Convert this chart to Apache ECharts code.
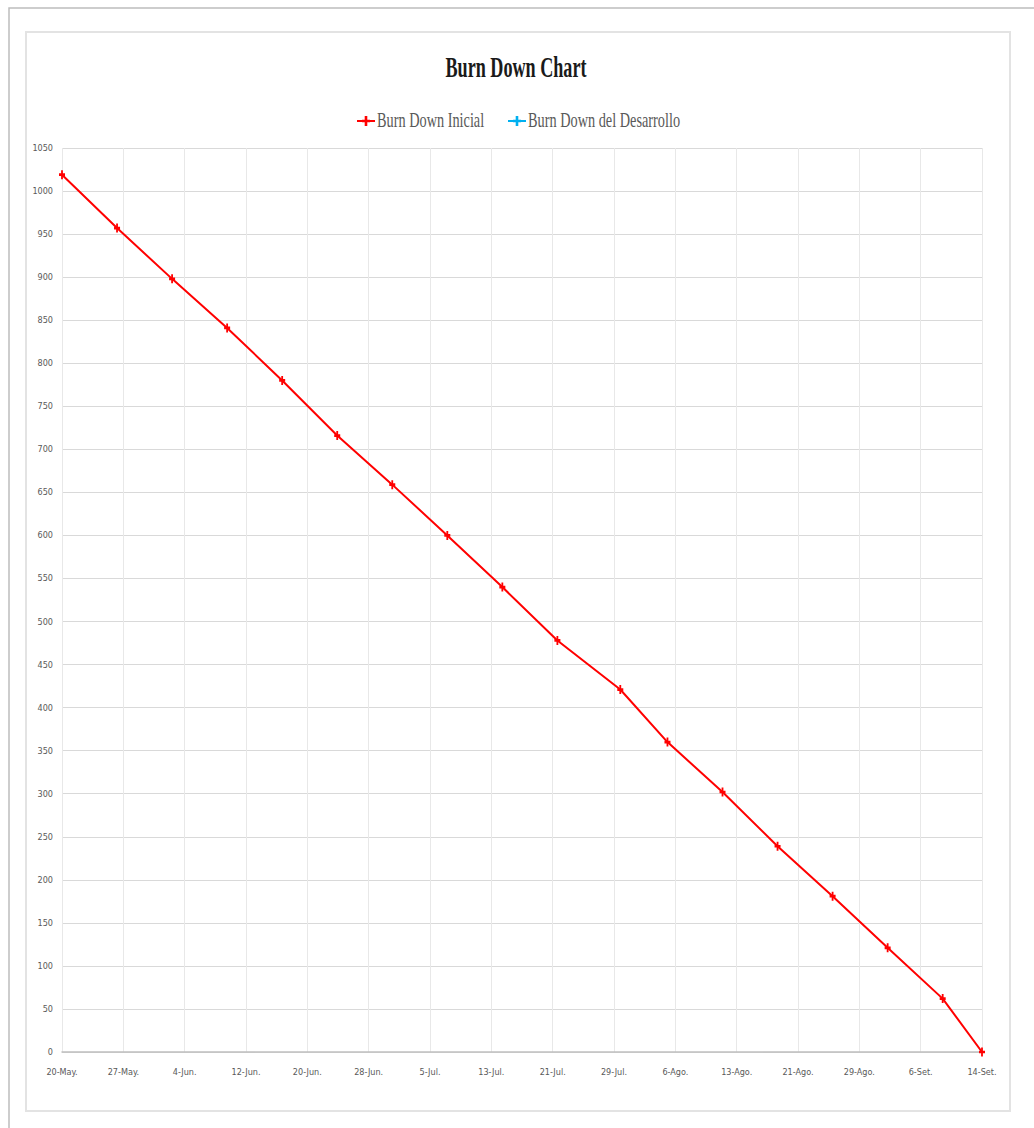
<!DOCTYPE html>
<html>
<head>
<meta charset="utf-8">
<script src="https://cdn.jsdelivr.net/npm/echarts@6/dist/echarts.min.js"></script>
<style>
  html, body { margin: 0; padding: 0; background: #ffffff; }
  #chart { width: 1034px; height: 1128px; }
</style>
</head>
<body>
<div id="chart"></div>
<script>
// ---- Data ----
const titleText = 'Burn Down Chart';
const seriesNames = ['Burn Down Inicial', 'Burn Down del Desarrollo'];
const seriesColors = ['#FF0000', '#00B0F0'];
const startDate = '2019-05-20';
const pointDates = ['2019-05-20', '2019-05-27', '2019-06-03', '2019-06-10', '2019-06-17', '2019-06-24',
  '2019-07-01', '2019-07-08', '2019-07-15', '2019-07-22', '2019-07-30', '2019-08-05',
  '2019-08-12', '2019-08-19', '2019-08-26', '2019-09-02', '2019-09-09', '2019-09-14'];
const burnDownInicial = [1019, 957, 898, 841, 780, 716, 659, 600, 540, 478, 421, 360, 302, 239, 181, 121, 62, 0];
const burnDownDesarrollo = [];
const xTickLabels = ['20-May.', '27-May.', '4-Jun.', '12-Jun.', '20-Jun.', '28-Jun.', '5-Jul.', '13-Jul.',
  '21-Jul.', '29-Jul.', '6-Ago.', '13-Ago.', '21-Ago.', '29-Ago.', '6-Set.', '14-Set.'];
const xSpanDays = 117;
const yMin = 0, yMax = 1050, yStep = 50;

// ---- Helpers ----
const DAY = 86400000;
const t0 = Date.parse(startDate + 'T00:00:00Z');
function dayOffset(s) { return Math.round((Date.parse(s + 'T00:00:00Z') - t0) / DAY); }
const xStep = xSpanDays / (xTickLabels.length - 1);
const inicialData = pointDates.map((d, i) => [dayOffset(d), burnDownInicial[i]]);
const desarrolloData = burnDownDesarrollo.map((v, i) => [dayOffset(pointDates[i]), v]);

const plusPath = 'path://M3.5,0H6.5V3.5H10V6.5H6.5V10H3.5V6.5H0V3.5H3.5Z';
const labelFont = "'Liberation Sans Narrow', 'DejaVu Sans Condensed', 'Liberation Sans', sans-serif";
const serifFont = "'Liberation Serif', 'DejaVu Serif', serif";

const chart = echarts.init(document.getElementById('chart'), null, { renderer: 'svg' });

function plusPoints(cx, cy, w, h, t) {
  const a = t / 2;
  const hw = w / 2, hh = h / 2;
  return [[cx - a, cy - hh], [cx + a, cy - hh], [cx + a, cy - a], [cx + hw, cy - a], [cx + hw, cy + a],
    [cx + a, cy + a], [cx + a, cy + hh], [cx - a, cy + hh], [cx - a, cy + a], [cx - hw, cy + a],
    [cx - hw, cy - a], [cx - a, cy - a]];
}

function legendItem(cx, cy, color, name) {
  return [
    { type: 'line', shape: { x1: cx - 9, y1: cy, x2: cx + 9, y2: cy }, style: { stroke: color, lineWidth: 2 }, silent: true },
    { type: 'polygon', shape: { points: plusPoints(cx, cy, 8, 10, 2.6) }, style: { fill: color }, silent: true },
    { type: 'text', x: cx + 11, y: cy - 2, scaleX: 0.65, silent: true,
      style: { text: name, font: '22px ' + serifFont, fill: '#595959', textAlign: 'left', textVerticalAlign: 'middle' } }
  ];
}

const option = {
  backgroundColor: '#ffffff',
  animation: false,
  grid: { left: 62, right: 52, top: 148, bottom: 76, containLabel: false },
  xAxis: {
    type: 'value',
    min: 0,
    max: xSpanDays,
    interval: xStep,
    axisLine: { show: true, lineStyle: { color: '#bfbfbf', width: 1.5 } },
    axisTick: { show: false },
    axisLabel: {
      color: '#595959', fontSize: 9, fontFamily: labelFont, margin: 15,
      showMinLabel: true, showMaxLabel: true,
      formatter: function (v) { return xTickLabels[Math.round(v / xStep)] || ''; }
    },
    splitLine: { show: true, lineStyle: { color: '#e8e8e8', width: 1 } }
  },
  yAxis: {
    type: 'value',
    min: yMin,
    max: yMax,
    interval: yStep,
    axisLine: { show: false },
    axisTick: { show: false },
    axisLabel: {
      color: '#595959', fontSize: 9, fontFamily: labelFont, margin: 9,
      formatter: function (v) { return String(Math.round(v)); }
    },
    splitLine: { show: true, lineStyle: { color: '#d9d9d9', width: 1 } }
  },
  series: [
    {
      name: seriesNames[0], type: 'line', data: inicialData,
      symbol: plusPath, symbolSize: [6, 9], showSymbol: true,
      itemStyle: { color: seriesColors[0] },
      lineStyle: { color: seriesColors[0], width: 2 }
    },
    {
      name: seriesNames[1], type: 'line', data: desarrolloData,
      symbol: plusPath, symbolSize: [6, 9],
      itemStyle: { color: seriesColors[1] },
      lineStyle: { color: seriesColors[1], width: 2 }
    }
  ],
  graphic: [
    { type: 'rect', shape: { x: 9, y: 8, width: 1100, height: 1200 }, style: { fill: 'none', stroke: '#bdbdbd', lineWidth: 1.5 }, silent: true },
    { type: 'rect', shape: { x: 26, y: 32, width: 984, height: 1079 }, style: { fill: 'none', stroke: '#e3e3e3', lineWidth: 2 }, silent: true },
    { type: 'text', x: 516, y: 67, scaleX: 0.625, silent: true,
      style: { text: titleText, font: 'bold 29px ' + serifFont, fill: '#1a1a1a', textAlign: 'center', textVerticalAlign: 'middle' } }
  ].concat(legendItem(366, 121, seriesColors[0], seriesNames[0]))
   .concat(legendItem(517, 121, seriesColors[1], seriesNames[1]))
};

chart.setOption(option);
</script>
</body>
</html>
